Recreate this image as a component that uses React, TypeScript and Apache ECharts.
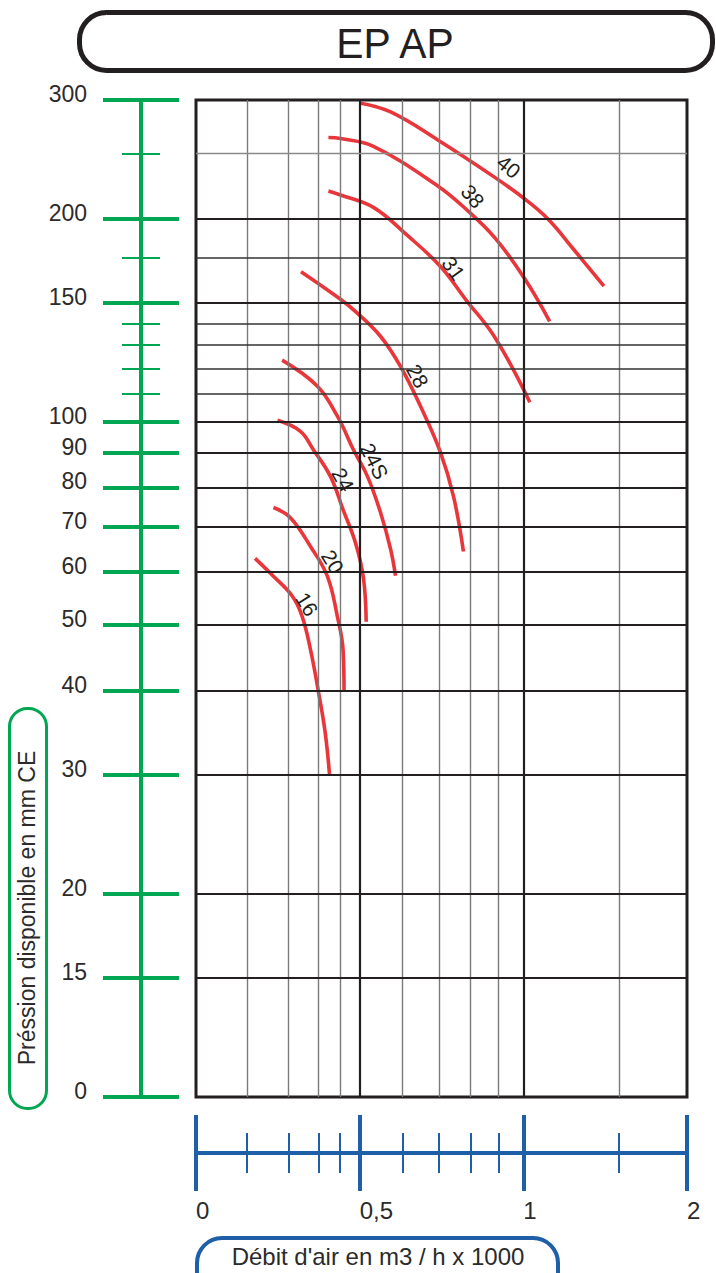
import React, { useEffect, useRef } from "react";
import * as echarts from "echarts";

// ---- axis ticks / labels ----
const xMajorTicks = [0.25, 0.5, 1, 2];
const xMajorLabels = ["0", "0,5", "1", "2"];
const xMinorTicks = [0.31, 0.37, 0.42, 0.46, 0.6, 0.7, 0.8, 0.9, 1.5];
const yMajorTicks = [10, 15, 20, 30, 40, 50, 60, 70, 80, 90, 100, 150, 200, 300];
const yMajorLabels = ["0", "15", "20", "30", "40", "50", "60", "70", "80", "90", "100", "150", "200", "300"];
const yMinorTicks = [110, 120, 130, 140, 175, 250];

// ---- grid lines inside the plot ----
const xGridMajor = [0.5, 1];
const xGridMinor = [0.31, 0.37, 0.42, 0.46, 0.6, 0.7, 0.8, 0.9, 1.5];
const yGridMajor = [15, 20, 30, 40, 50, 60, 70, 80, 90, 100, 150, 200];
const yGridMinor = [110, 120, 130, 140, 175];
const yGridLight = [250];

// ---- curves: [debit (m3/h x1000), pression (mm CE)] ----
const curveNames = ["40", "38", "31", "28", "24S", "24", "20", "16"];
const curve40 = [[0.5, 297], [0.57, 288], [0.695, 262], [0.882, 231], [1.006, 214], [1.109, 200], [1.239, 180], [1.407, 159]];
const curve38 = [[0.438, 264], [0.461, 263], [0.53, 256], [0.695, 224], [0.783, 207], [0.889, 187], [1.006, 163], [1.118, 141]];
const curve31 = [[0.438, 220], [0.461, 217], [0.53, 208], [0.612, 189], [0.704, 170], [0.783, 152], [0.889, 133], [1.028, 107]];
const curve28 = [[0.39, 167], [0.461, 152], [0.495, 145], [0.546, 134], [0.594, 121], [0.647, 105.5], [0.704, 90.2], [0.744, 77.6], [0.776, 64.3]];
const curve24S = [[0.36, 123.5], [0.418, 113], [0.455, 102], [0.487, 91], [0.517, 83], [0.546, 73.5], [0.57, 64.8], [0.582, 59.2]];
const curve24 = [[0.353, 100.6], [0.389, 96.9], [0.411, 91], [0.442, 83], [0.466, 74.2], [0.491, 66.3], [0.508, 58.8], [0.514, 50.6]];
const curve20 = [[0.347, 74.7], [0.3725, 72.2], [0.406, 65.4], [0.436, 59.1], [0.455, 51.5], [0.466, 46], [0.468, 39.9]];
const curve16 = [[0.321, 62.8], [0.347, 59.1], [0.376, 55.2], [0.392, 51.5], [0.406, 46], [0.42, 39.8], [0.432, 34.7], [0.44, 30.1]];
const curves = [curve40, curve38, curve31, curve28, curve24S, curve24, curve20, curve16];

// curve label anchors (data coordinates) and their text angles (degrees, clockwise)
const labelPoints = [[0.94, 239], [0.807, 216], [0.744, 169], [0.639, 117], [0.532, 87.5], [0.466, 82.2], [0.446, 62.1], [0.4, 53.7]];
const labelAngles = [39, 50, 54, 62, 63, 61, 58, 58];

const FONT = "'Liberation Sans', Arial, Helvetica, sans-serif";
const GREEN = "#00a651";
const BLUE = "#1f5fa8";
const RED = "#e8363b";
const INK = "#231f20";
const TEXT = "#2b2b2b";

function nearestLabel(v: number, ticks: number[], labels: string[]) {
  let best = 0;
  let bd = Infinity;
  ticks.forEach((t, i) => {
    const d = Math.abs(Math.log(t) - Math.log(v));
    if (d < bd) {
      bd = d;
      best = i;
    }
  });
  return labels[best];
}

export default function App() {
  const ref = useRef<HTMLDivElement>(null);

  useEffect(() => {
    if (!ref.current) return;
    const chart = echarts.init(ref.current, null, { renderer: "svg" });

    const baseX = { type: "log", logBase: 2, min: 0.25, max: 2, gridIndex: 0, splitLine: { show: false } };
    const baseY = { type: "log", logBase: 10, min: 10, max: 300, gridIndex: 0, splitLine: { show: false } };

    const xTickAxis = (values: number[], inside: boolean, len: number, width: number, withLine: boolean, withLabels: boolean) => ({
      ...baseX,
      position: "bottom",
      offset: 56,
      axisLine: { show: withLine, lineStyle: { color: BLUE, width: 4 } },
      axisTick: { show: true, inside, length: len, customValues: values, lineStyle: { color: BLUE, width } },
      axisLabel: withLabels
        ? {
            show: true,
            customValues: xMajorTicks,
            formatter: (v: number) => nearestLabel(v, xMajorTicks, xMajorLabels),
            margin: 45,
            align: "left",
            fontSize: 24,
            fontFamily: FONT,
            color: TEXT,
          }
        : { show: false },
    });

    const yTickAxis = (values: number[], inside: boolean, len: number, width: number, withLine: boolean, withLabels: boolean) => ({
      ...baseY,
      position: "left",
      offset: 55,
      axisLine: { show: withLine, lineStyle: { color: GREEN, width: 4 } },
      axisTick: { show: true, inside, length: len, customValues: values, lineStyle: { color: GREEN, width } },
      axisLabel: withLabels
        ? {
            show: true,
            customValues: yMajorTicks,
            formatter: (v: number) => nearestLabel(v, yMajorTicks, yMajorLabels),
            margin: 54,
            fontSize: 23,
            fontFamily: FONT,
            color: TEXT,
            verticalAlign: "bottom",
            lineHeight: 12,
          }
        : { show: false },
    });

    const gridLineData = [
      ...xGridMinor.map((v) => ({ xAxis: v, lineStyle: { color: "#7a7a7a", width: 1.4, type: "solid" } })),
      ...xGridMajor.map((v) => ({ xAxis: v, lineStyle: { color: INK, width: 2.2, type: "solid" } })),
      ...yGridLight.map((v) => ({ yAxis: v, lineStyle: { color: "#8a8a8a", width: 1.4, type: "solid" } })),
      ...yGridMinor.map((v) => ({ yAxis: v, lineStyle: { color: "#333", width: 1.5, type: "solid" } })),
      ...yGridMajor.map((v) => ({ yAxis: v, lineStyle: { color: INK, width: 2.1, type: "solid" } })),
    ];

    const curveSeries = curves.map((c, i) => ({
      name: curveNames[i],
      type: "line",
      data: c,
      smooth: 0.4,
      showSymbol: false,
      symbol: "none",
      z: 3,
      silent: true,
      lineStyle: { color: RED, width: 3.6 },
    }));

    const staticGraphics: any[] = [
      {
        type: "rect",
        shape: { x: 79.5, y: 12.5, width: 633, height: 58, r: 27 },
        style: { fill: "none", stroke: INK, lineWidth: 5 },
      },
      {
        type: "text",
        x: 395,
        y: 43,
        scaleX: 0.95,
        style: { text: "EP AP", fontSize: 43, fontFamily: FONT, fill: INK, align: "center", verticalAlign: "middle" },
      },
      {
        type: "rect",
        shape: { x: 9.5, y: 708.5, width: 37, height: 400, r: 18 },
        style: { fill: "none", stroke: GREEN, lineWidth: 3 },
      },
      {
        type: "text",
        x: 27,
        y: 908,
        rotation: Math.PI / 2,
        style: {
          text: "Préssion disponible en mm CE",
          fontSize: 23,
          fontFamily: FONT,
          fill: TEXT,
          align: "center",
          verticalAlign: "middle",
        },
      },
      {
        type: "rect",
        shape: { x: 197, y: 1238, width: 361, height: 70, r: 25 },
        style: { fill: "none", stroke: BLUE, lineWidth: 4 },
      },
      {
        type: "text",
        x: 378,
        y: 1256,
        style: {
          text: "Débit d'air en m3 / h x 1000",
          fontSize: 24,
          fontFamily: FONT,
          fill: TEXT,
          align: "center",
          verticalAlign: "middle",
        },
      },
    ];

    chart.setOption({
      animation: false,
      backgroundColor: "#ffffff",
      grid: {
        left: 196,
        top: 100,
        width: 491,
        height: 997,
        show: true,
        borderColor: INK,
        borderWidth: 3,
        backgroundColor: "transparent",
      },
      xAxis: [
        { ...baseX, axisLine: { show: false }, axisTick: { show: false }, axisLabel: { show: false } },
        xTickAxis(xMajorTicks, false, 38, 4, true, true),
        xTickAxis(xMajorTicks, true, 38, 4, false, false),
        xTickAxis(xMinorTicks, false, 20, 2, false, false),
        xTickAxis(xMinorTicks, true, 20, 2, false, false),
      ],
      yAxis: [
        { ...baseY, axisLine: { show: false }, axisTick: { show: false }, axisLabel: { show: false } },
        yTickAxis(yMajorTicks, false, 38, 4, true, true),
        yTickAxis(yMajorTicks, true, 38, 4, false, false),
        yTickAxis(yMinorTicks, false, 19, 2, false, false),
        yTickAxis(yMinorTicks, true, 19, 2, false, false),
      ],
      series: [
        {
          type: "line",
          data: [],
          z: 1,
          silent: true,
          markLine: {
            silent: true,
            symbol: ["none", "none"],
            label: { show: false },
            emphasis: { disabled: true },
            data: gridLineData,
          },
        },
        ...curveSeries,
      ],
      graphic: staticGraphics,
    });

    // curve labels placed through the chart's own coordinate system
    const labelGraphics = labelPoints.map((p, i) => {
      const px = chart.convertToPixel({ xAxisIndex: 0, yAxisIndex: 0 }, p) as number[];
      return {
        type: "text",
        x: px[0],
        y: px[1],
        z: 10,
        rotation: (-labelAngles[i] * Math.PI) / 180,
        style: {
          text: curveNames[i],
          fontSize: 21,
          fontFamily: FONT,
          fill: INK,
          align: "center",
          verticalAlign: "middle",
        },
      };
    });

    chart.setOption({ graphic: [...staticGraphics, ...labelGraphics] });

    return () => chart.dispose();
  }, []);

  return (
    <div
      ref={ref}
      style={{ position: "absolute", left: 0, top: 0, width: 716, height: 1273, background: "#fff" }}
    />
  );
}
